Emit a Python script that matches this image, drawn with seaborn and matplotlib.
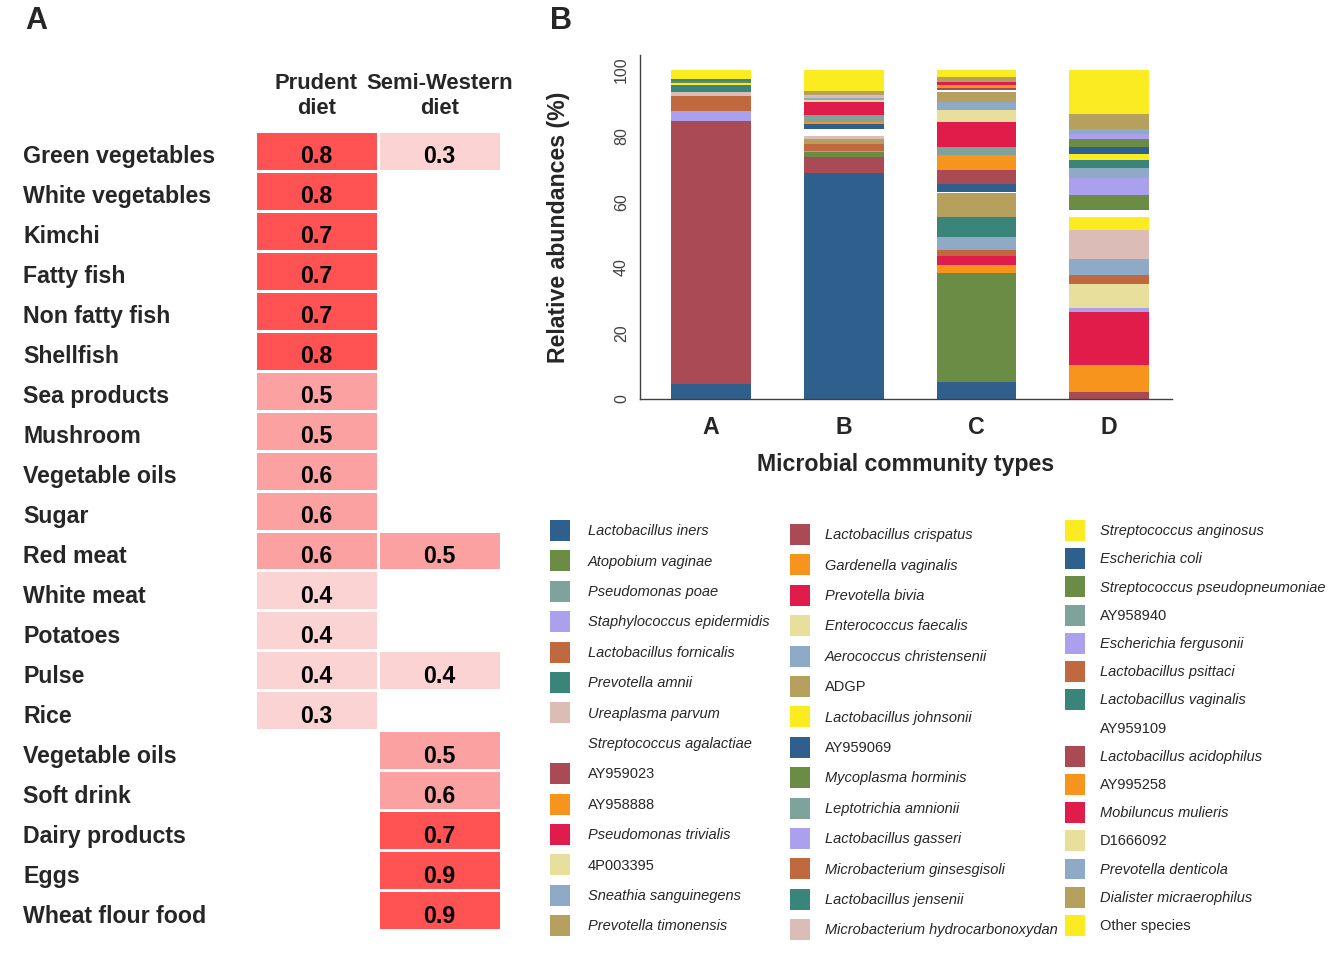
import matplotlib

matplotlib.use("Agg")
import matplotlib.pyplot as plt
import numpy as np
import pandas as pd
import seaborn as sns
from matplotlib.colors import BoundaryNorm, ListedColormap
from matplotlib.patches import Patch

# ---------------- panel A: diet pattern loadings ----------------
foods = [
    "Green vegetables", "White vegetables", "Kimchi", "Fatty fish", "Non fatty fish",
    "Shellfish", "Sea products", "Mushroom", "Vegetable oils", "Sugar",
    "Red meat", "White meat", "Potatoes", "Pulse", "Rice",
    "Vegetable oils", "Soft drink", "Dairy products", "Eggs", "Wheat flour food",
]
diet_patterns = ["Prudent\ndiet", "Semi-Western\ndiet"]
nan = np.nan
prudent = [0.8, 0.8, 0.7, 0.7, 0.7, 0.8, 0.5, 0.5, 0.6, 0.6,
           0.6, 0.4, 0.4, 0.4, 0.3, nan, nan, nan, nan, nan]
semi_western = [0.3, nan, nan, nan, nan, nan, nan, nan, nan, nan,
                0.5, nan, nan, 0.4, nan, 0.5, 0.6, 0.7, 0.9, 0.9]

# ---------------- panel B: community type composition ----------------
community_types = ["A", "B", "C", "D"]

legend_col1 = [
    "Lactobacillus iners", "Atopobium vaginae", "Pseudomonas poae",
    "Staphylococcus epidermidis", "Lactobacillus fornicalis", "Prevotella amnii",
    "Ureaplasma parvum", "Streptococcus agalactiae", "AY959023", "AY958888",
    "Pseudomonas trivialis", "4P003395", "Sneathia sanguinegens", "Prevotella timonensis",
]
legend_col2 = [
    "Lactobacillus crispatus", "Gardenella vaginalis", "Prevotella bivia",
    "Enterococcus faecalis", "Aerococcus christensenii", "ADGP", "Lactobacillus johnsonii",
    "AY959069", "Mycoplasma horminis", "Leptotrichia amnionii", "Lactobacillus gasseri",
    "Microbacterium ginsesgisoli", "Lactobacillus jensenii", "Microbacterium hydrocarbonoxydan",
]
legend_col3 = [
    "Streptococcus anginosus", "Escherichia coli", "Streptococcus pseudopneumoniae",
    "AY958940", "Escherichia fergusonii", "Lactobacillus psittaci", "Lactobacillus vaginalis",
    "AY959109", "Lactobacillus acidophilus", "AY995258", "Mobiluncus mulieris",
    "D1666092", "Prevotella denticola", "Dialister micraerophilus", "Other species",
]
non_italic = {"AY959023", "AY958888", "4P003395", "ADGP", "AY959069", "AY958940",
              "AY959109", "AY995258", "D1666092", "Other species"}

palette = {
    "blue": "#2f5f8c", "green": "#6b8c45", "greyteal": "#7ea39a", "lavender": "#aaa0ee",
    "orangebrown": "#c0683e", "teal": "#3a857a", "pink": "#dcbcb6", "white": "#ffffff",
    "darkred": "#aa4a55", "orange": "#f7941d", "crimson": "#e01c4a", "paleyellow": "#e8df9c",
    "lightblue": "#8eaac6", "khaki": "#b5a05e", "yellow": "#fbec22",
}
col1_colors = ["blue", "green", "greyteal", "lavender", "orangebrown", "teal", "pink",
               "white", "darkred", "orange", "crimson", "paleyellow", "lightblue", "khaki"]
col2_colors = ["darkred", "orange", "crimson", "paleyellow", "lightblue", "khaki", "yellow",
               "blue", "green", "greyteal", "lavender", "orangebrown", "teal", "pink"]
col3_colors = ["yellow", "blue", "green", "greyteal", "lavender", "orangebrown", "teal",
               "white", "darkred", "orange", "crimson", "paleyellow", "lightblue", "khaki",
               "yellow"]

# relative abundances (%)
abund_a = {
    "Lactobacillus iners": 4.5, "Lactobacillus crispatus": 80.0,
    "Staphylococcus epidermidis": 3.0, "Lactobacillus fornicalis": 4.5,
    "Ureaplasma parvum": 1.3, "Lactobacillus jensenii": 2.1,
    "Streptococcus anginosus": 0.7, "Streptococcus pseudopneumoniae": 0.6,
    "Lactobacillus vaginalis": 0.5, "Other species": 2.8,
}
abund_b = {
    "Lactobacillus iners": 68.8, "Lactobacillus crispatus": 4.8, "Atopobium vaginae": 1.5,
    "Gardenella vaginalis": 0.3, "Lactobacillus fornicalis": 2.0, "ADGP": 1.6,
    "Ureaplasma parvum": 0.9, "Streptococcus agalactiae": 2.3, "AY959069": 1.5,
    "AY958888": 0.4, "Leptotrichia amnionii": 2.2, "Pseudomonas trivialis": 4.1,
    "4P003395": 0.5, "Sneathia sanguinegens": 0.5,
    "Microbacterium hydrocarbonoxydan": 1.0, "Dialister micraerophilus": 1.2,
    "Other species": 6.4,
}
abund_c = {
    "Lactobacillus iners": 5.2, "Atopobium vaginae": 33.0, "Gardenella vaginalis": 2.5,
    "Prevotella bivia": 2.8, "Lactobacillus fornicalis": 1.8,
    "Aerococcus christensenii": 4.0, "Prevotella amnii": 6.1, "ADGP": 7.1,
    "Streptococcus agalactiae": 0.5, "AY959069": 2.5, "AY959023": 4.1, "AY958888": 4.6,
    "Leptotrichia amnionii": 2.3, "Pseudomonas trivialis": 7.8, "4P003395": 3.5,
    "Sneathia sanguinegens": 2.6, "Prevotella timonensis": 3.0, "AY959109": 0.5,
    "Lactobacillus acidophilus": 0.8, "AY995258": 0.8, "Mobiluncus mulieris": 0.8,
    "Dialister micraerophilus": 1.6, "Other species": 2.1,
}
abund_d = {
    "Lactobacillus crispatus": 2.0, "Gardenella vaginalis": 8.3, "Prevotella bivia": 16.2,
    "Staphylococcus epidermidis": 1.1, "Enterococcus faecalis": 7.4,
    "Lactobacillus fornicalis": 2.7, "Aerococcus christensenii": 4.8,
    "Ureaplasma parvum": 8.9, "Lactobacillus johnsonii": 4.0,
    "Streptococcus agalactiae": 2.0, "Mycoplasma horminis": 4.6,
    "Lactobacillus gasseri": 5.1, "Sneathia sanguinegens": 3.0,
    "Lactobacillus jensenii": 2.5, "Streptococcus anginosus": 1.9,
    "Escherichia coli": 2.0, "Streptococcus pseudopneumoniae": 2.7,
    "Escherichia fergusonii": 1.3, "Prevotella denticola": 1.7,
    "Dialister micraerophilus": 4.6, "Other species": 13.2,
}

# ---------------- style ----------------
sns.set_style("white")
plt.rcParams["font.family"] = ["Liberation Sans", "DejaVu Sans"]

fig = plt.figure(figsize=(13.4, 9.72), dpi=100)
W, H = 1340, 972
big = 16.7

# ---------------- panel A ----------------
loadings = np.column_stack([prudent, semi_western])
cmap = ListedColormap(["#fcd3d3", "#fca1a1", "#ff5252"])
norm = BoundaryNorm([0.25, 0.45, 0.65, 1.0], cmap.N)

ax_a = fig.add_axes([255 / W, 1 - 930 / H, 246 / W, 799 / H])
sns.heatmap(
    loadings,
    ax=ax_a,
    cmap=cmap,
    norm=norm,
    annot=True,
    fmt=".1f",
    annot_kws={"size": big, "weight": "bold", "color": "black"},
    cbar=False,
    linewidths=2,
    linecolor="white",
    xticklabels=diet_patterns,
    yticklabels=foods,
)
# text in the source sits a little below the cell centre
for t in ax_a.texts:
    tx, ty = t.get_position()
    t.set_position((tx, ty + 0.15))
ax_a.set_yticks(np.arange(len(foods)) + 0.65)
ax_a.set_yticklabels(foods, rotation=0, ha="left", fontsize=big, fontweight="bold")
ax_a.xaxis.tick_top()
ax_a.set_xticklabels(diet_patterns, rotation=0, fontsize=15.8, fontweight="bold",
                     multialignment="center")
ax_a.tick_params(axis="x", length=0, pad=9)
ax_a.tick_params(axis="y", length=0, pad=(255 - 23) * 0.72)

# ---------------- panel B ----------------
stack_order = [sp for pair in zip(legend_col1, legend_col2) for sp in pair] + legend_col3
color_of = dict(zip(legend_col1 + legend_col2 + legend_col3,
                    [palette[c] for c in col1_colors + col2_colors + col3_colors]))

abund = pd.DataFrame({"A": abund_a, "B": abund_b, "C": abund_c, "D": abund_d})
abund = abund.reindex(stack_order).fillna(0.0)[community_types]

ax_b = fig.add_axes([640 / W, 1 - 399 / H, 532 / W, 344 / H])
x = np.arange(len(community_types))
bottom = np.zeros(len(community_types))
for sp in stack_order:
    vals = abund.loc[sp].to_numpy()
    ax_b.bar(x, vals, bottom=bottom, width=0.6, color=color_of[sp], linewidth=0)
    bottom += vals

ax_b.set_xlim(-0.535, 3.474)
ax_b.set_ylim(0, 104.6)
ax_b.set_xticks(x)
ax_b.set_xticklabels(community_types, fontsize=big, fontweight="bold")
ax_b.set_yticks(np.arange(0, 101, 20))
ax_b.tick_params(axis="x", length=0, pad=12)
ax_b.tick_params(axis="y", length=4, width=1, direction="out", pad=4,
                 labelsize=11.5, labelcolor="#404040", labelrotation=90, color="#404040")
for lab in ax_b.get_yticklabels():
    lab.set_va("center")
ax_b.set_xlabel("Microbial community types", fontsize=big, fontweight="bold", labelpad=10)
ax_b.set_ylabel("Relative abundances (%)", fontsize=big, fontweight="bold")
ax_b.yaxis.set_label_coords(-0.132, 0.5)
sns.despine(ax=ax_b)
for side in ("left", "bottom"):
    ax_b.spines[side].set_color("#404040")
    ax_b.spines[side].set_linewidth(1.0)

# ---------------- legend, three columns ----------------
legend_specs = [
    (legend_col1, 550, 520, 1.23, 0.65),
    (legend_col2, 790, 524, 1.03, 0.65),
    (legend_col3, 1065, 520, 1.03, 0.50),
]
for names, x0, y0, textpad, spacing in legend_specs:
    handles = [Patch(facecolor=color_of[n], edgecolor="none") for n in names]
    leg = fig.legend(
        handles, names,
        loc="upper left",
        bbox_to_anchor=(x0 / W, 1 - y0 / H),
        frameon=False,
        prop={"family": ["Liberation Sans", "DejaVu Sans"], "size": 10.5},
        handlelength=1.37,
        handleheight=1.83,
        handletextpad=textpad,
        labelspacing=spacing,
        borderpad=0,
        borderaxespad=0,
    )
    for txt in leg.get_texts():
        if txt.get_text() not in non_italic:
            txt.set_fontstyle("italic")

fig.text(25 / W, 1 - 6 / H, "A", fontsize=22, fontweight="bold", va="top")
fig.text(550 / W, 1 - 6 / H, "B", fontsize=22, fontweight="bold", va="top")

fig.savefig("out.png", dpi=100)
